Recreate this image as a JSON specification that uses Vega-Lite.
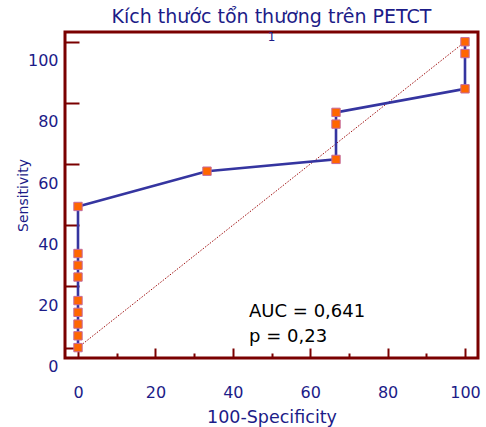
{
  "$schema": "https://vega.github.io/schema/vega-lite/v6.json",
  "width": 413,
  "height": 326,
  "autosize": {"type": "none"},
  "padding": {"left": 65, "top": 32, "right": 8, "bottom": 69},
  "background": "white",
  "title": {
    "text": "Kích thước tổn thương trên PETCT",
    "font": "DejaVu Sans",
    "fontSize": 19,
    "fontWeight": "normal",
    "color": "#1c1c88",
    "anchor": "middle",
    "baseline": "bottom",
    "offset": -15
  },
  "config": {
    "view": {"stroke": "#7a0000", "strokeWidth": 3},
    "axis": {
      "domain": false,
      "grid": false,
      "tickColor": "#7a0000",
      "tickWidth": 2,
      "labelFont": "DejaVu Sans",
      "labelFontSize": 16,
      "labelColor": "#1c1c88",
      "titleFont": "DejaVu Sans",
      "titleFontSize": 17.5,
      "titleFontWeight": "normal",
      "titleColor": "#1c1c88"
    }
  },
  "datasets": {
    "roc": [
      {"step": 0, "fpr": 0, "tpr": 0},
      {"step": 1, "fpr": 0, "tpr": 3.85},
      {"step": 2, "fpr": 0, "tpr": 7.69},
      {"step": 3, "fpr": 0, "tpr": 11.54},
      {"step": 4, "fpr": 0, "tpr": 15.38},
      {"step": 5, "fpr": 0, "tpr": 23.08},
      {"step": 6, "fpr": 0, "tpr": 26.92},
      {"step": 7, "fpr": 0, "tpr": 30.77},
      {"step": 8, "fpr": 0, "tpr": 46.15},
      {"step": 9, "fpr": 33.33, "tpr": 57.69},
      {"step": 10, "fpr": 66.67, "tpr": 61.54},
      {"step": 11, "fpr": 66.67, "tpr": 73.08},
      {"step": 12, "fpr": 66.67, "tpr": 76.92},
      {"step": 13, "fpr": 100, "tpr": 84.62},
      {"step": 14, "fpr": 100, "tpr": 96.15},
      {"step": 15, "fpr": 100, "tpr": 100}
    ],
    "diag": [
      {"fpr": 0, "tpr": 0},
      {"fpr": 100, "tpr": 100}
    ]
  },
  "layer": [
    {
      "data": {"name": "diag"},
      "mark": {"type": "line", "color": "#a01010", "strokeWidth": 1, "strokeDash": [1.5, 1.5]},
      "encoding": {
        "x": {
          "field": "fpr",
          "type": "quantitative",
          "scale": {"domain": [-3.36, 103.36], "nice": false, "zero": false},
          "axis": {
            "title": "100-Specificity",
            "values": [0, 5, 10, 15, 20, 25, 30, 35, 40, 45, 50, 55, 60, 65, 70, 75, 80, 85, 90, 95, 100],
            "labelExpr": "datum.value % 20 === 0 ? datum.label : ''",
            "tickSize": {"condition": {"test": "datum.value % 20 === 0", "value": -10}, "value": -5},
            "labelPadding": 44,
            "labelBaseline": "middle",
            "titlePadding": 8
          }
        },
        "y": {
          "field": "tpr",
          "type": "quantitative",
          "scale": {"domain": [-3.4, 103.2], "nice": false, "zero": false},
          "axis": {
            "title": "Sensitivity",
            "titleFontSize": 14,
            "values": [0, 5, 10, 15, 20, 25, 30, 35, 40, 45, 50, 55, 60, 65, 70, 75, 80, 85, 90, 95, 100],
            "labelExpr": "datum.value % 20 === 0 ? datum.label : ''",
            "tickSize": {"condition": {"test": "datum.value % 20 === 0", "value": -14}, "value": -7},
            "labelPadding": 21,
            "labelOffset": 19,
            "titlePadding": -3
          }
        }
      }
    },
    {
      "data": {"name": "roc"},
      "mark": {"type": "line", "color": "#3535a0", "strokeWidth": 2.6},
      "encoding": {
        "x": {"field": "fpr", "type": "quantitative"},
        "y": {"field": "tpr", "type": "quantitative"},
        "order": {"field": "step", "type": "quantitative"}
      }
    },
    {
      "data": {"name": "roc"},
      "mark": {"type": "point", "shape": "square", "filled": true, "size": 70, "color": "#ff6600", "stroke": "#c46a9c", "strokeWidth": 1, "opacity": 1},
      "encoding": {
        "x": {"field": "fpr", "type": "quantitative"},
        "y": {"field": "tpr", "type": "quantitative"}
      }
    },
    {
      "data": {"values": [{"note": "AUC = 0,641"}]},
      "mark": {"type": "text", "align": "left", "baseline": "middle", "font": "DejaVu Sans", "fontSize": 18, "color": "#000000"},
      "encoding": {
        "x": {"datum": 44.2},
        "y": {"datum": 11.8},
        "text": {"field": "note"}
      }
    },
    {
      "data": {"values": [{"note": "p = 0,23"}]},
      "mark": {"type": "text", "align": "left", "baseline": "middle", "font": "DejaVu Sans", "fontSize": 18, "color": "#000000"},
      "encoding": {
        "x": {"datum": 44.2},
        "y": {"datum": 3.5},
        "text": {"field": "note"}
      }
    },
    {
      "data": {"values": [{"note": "1"}]},
      "mark": {"type": "text", "align": "center", "baseline": "top", "font": "DejaVu Sans", "fontSize": 12, "color": "#1c1c88"},
      "encoding": {
        "x": {"datum": 50},
        "y": {"datum": 103.2},
        "text": {"field": "note"}
      }
    }
  ]
}
